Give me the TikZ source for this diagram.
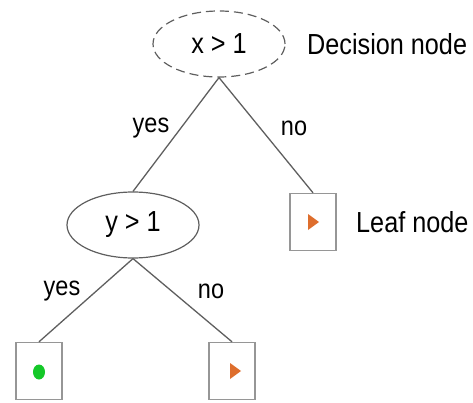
\documentclass[tikz,border=0pt]{standalone}
\usepackage{fontspec}
\setmainfont{Liberation Sans}
\usetikzlibrary{shapes.geometric}
\definecolor{edgegray}{RGB}{95,95,95}
\definecolor{boxgray}{RGB}{150,150,150}
\definecolor{leaforange}{RGB}{222,110,45}
\definecolor{leafgreen}{RGB}{20,200,40}
\newcommand{\nar}[1]{\scalebox{0.87}[1]{#1}}
\begin{document}
\begin{tikzpicture}[x=1pt,y=-1pt,
  every node/.style={font=\fontsize{29}{31}\selectfont, inner sep=0pt},
  decision/.style={ellipse, draw=edgegray, line width=1.2pt, minimum width=132pt, minimum height=66pt},
  leafbox/.style={rectangle, draw=boxgray, line width=1.4pt, fill=white, minimum width=46pt, minimum height=57pt},
  edge/.style={draw=edgegray, line width=1.3pt},
  lbl/.style={font=\fontsize{27}{29}\selectfont}
]
\useasboundingbox (0,0) rectangle (473,403);
\node[decision, dashed, dash pattern=on 9pt off 5pt] (dec) at (219,44) {\nar{x > 1}};
\node[anchor=west] (dectext) at (307,44) {\nar{Decision node}};
\node[decision] (ynode) at (133,225) {\nar{y > 1}};
\node[leafbox] (leafr) at (313,222) {};
\node[anchor=west] (leaftext) at (356,222) {\nar{Leaf node}};
\node[leafbox] (leafa) at (39,371) {};
\node[leafbox] (leafb) at (232,371) {};
\draw[edge] (dec.south) -- (ynode.north);
\draw[edge] (dec.south) -- (leafr.north);
\draw[edge] (ynode.south) -- (leafa.north);
\draw[edge] (ynode.south) -- (leafb.north);
\node[lbl] (yes1) at (151,128) {\nar{yes}};
\node[lbl] (no1) at (294,128) {\nar{no}};
\node[lbl] (yes2) at (62,291) {\nar{yes}};
\node[lbl] (no2) at (211,291) {\nar{no}};
\fill[leaforange] (308,214) -- (319,222) -- (308,230) -- cycle;
\fill[leaforange] (230,363) -- (241,371) -- (230,379) -- cycle;
\fill[leafgreen] (39,372) ellipse (6pt and 7.5pt);
\end{tikzpicture}
\end{document}
